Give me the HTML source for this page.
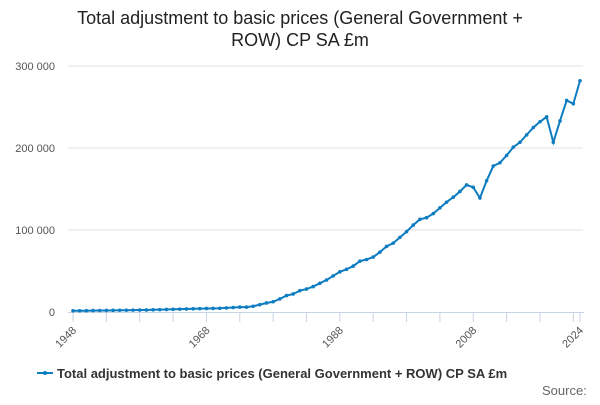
<!DOCTYPE html>
<html><head><meta charset="utf-8"><style>
body{margin:0;background:#fff;font-family:"Liberation Sans",sans-serif}
svg text{font-family:"Liberation Sans",sans-serif}
</style></head><body>
<svg width="600" height="400" viewBox="0 0 600 400">
<text x="300" y="24" text-anchor="middle" font-size="18" fill="#222">Total adjustment to basic prices (General Government +</text>
<text x="300" y="46" text-anchor="middle" font-size="18" fill="#222">ROW) CP SA £m</text>
<g id="grid"></g><g id="xaxis"></g><g id="series"></g>
<g>
<line x1="37" y1="373" x2="53" y2="373" stroke="#0d7cc0" stroke-width="2"/>
<circle cx="45" cy="373" r="2" fill="#0d7cc0"/>
<text x="57" y="378" font-size="13" font-weight="bold" fill="#333">Total adjustment to basic prices (General Government + ROW) CP SA £m</text>
</g>
<text x="542" y="395" font-size="13" fill="#666">Source:</text>
</svg>
<script>
const years=[];for(let y=1948;y<=2024;y++)years.push(y);
const values=[1.5,1.5,1.6,1.7,1.8,1.9,2,2.1,2.2,2.3,2.4,2.5,2.7,2.9,3.1,3.3,3.5,3.7,3.9,4.1,4.3,4.4,4.5,5,5.5,6,6,7,9,11,12.5,16,20,22,26,28,31,35,39,44,49,52,56,62,64,67,73,80,84,91,98,106,113,115,120,127,134,140,147,155,152,139,160,178,182,191,201,207,216,225,232,238,207,233,258,254,282].map(v=>v*1000);
const yTicks=[0,100000,200000,300000];
const yTickLabels=["0","100 000","200 000","300 000"];
const xLabels=[1948,1968,1988,2008,2024];
const NS="http://www.w3.org/2000/svg";
const X=y=>73+(y-1948)*(507/76);
const Y=v=>312-v*0.00082;
function mk(t,a,p){const e=document.createElementNS(NS,t);for(const k in a)e.setAttribute(k,a[k]);p.appendChild(e);return e;}
const g=document.getElementById('grid'),xa=document.getElementById('xaxis'),s=document.getElementById('series');
yTicks.forEach((t,i)=>{
 if(t>0){const l=mk('line',{x1:68,x2:583,y1:Y(t),y2:Y(t),stroke:'#e0e0e0'},g);
 
 }
 const tx=mk('text',{x:55,y:Y(t)+4,'text-anchor':'end','font-size':11,fill:'#555'},g);tx.textContent=yTickLabels[i];
 
 
});
const ax=mk('line',{x1:68,x2:584,y1:312.5,y2:312.5,stroke:'#c8d3e3'},xa);


const tks=[];for(let y=1948;y<=2023;y+=5)tks.push(y);tks.push(2024);
tks.forEach(y=>{mk('line',{x1:X(y),x2:X(y),y1:312,y2:322,stroke:'#c8d3e3'},xa);});
xLabels.forEach(y=>{const t=mk('text',{x:X(y)+4,y:331,'text-anchor':'end','font-size':11,fill:'#555',transform:`rotate(-45 ${X(y)+4} 331)`},xa);t.textContent=y;
 
 });
const pl=mk('polyline',{points:years.map((y,i)=>X(y)+','+Y(values[i])).join(' '),fill:'none',stroke:'#0d7cc0','stroke-width':2},s);


years.forEach((y,i)=>{const c=mk('circle',{cx:X(y),cy:Y(values[i]),r:1.8,fill:'#0d7cc0'},s);
 
 });
</script>
</body></html>
